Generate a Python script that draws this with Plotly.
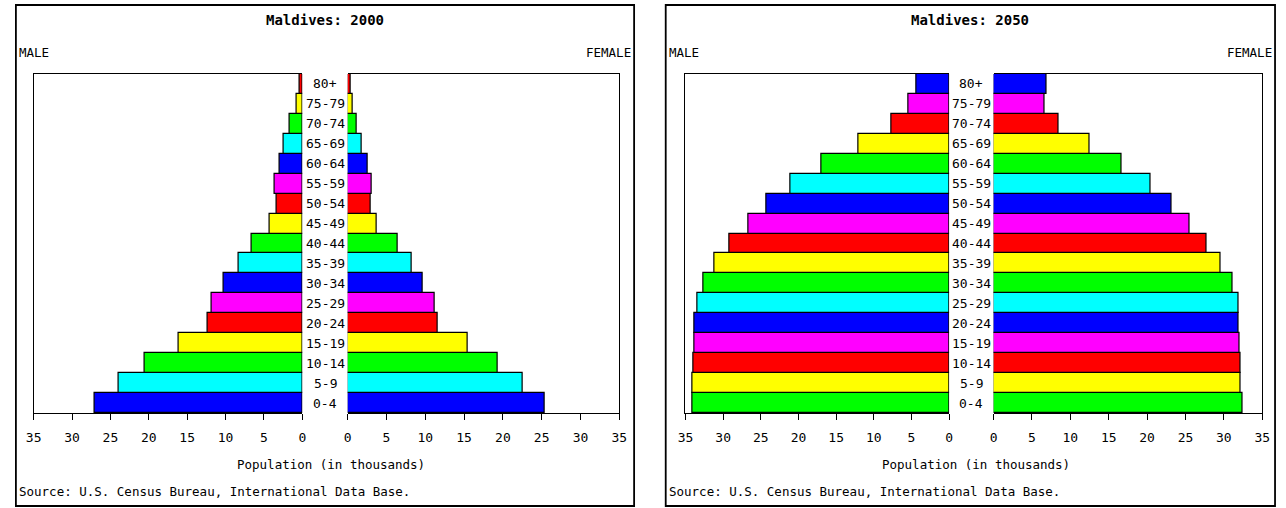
import plotly.graph_objects as go

# ---------------- data ----------------
ages = ["0-4", "5-9", "10-14", "15-19", "20-24", "25-29", "30-34", "35-39",
        "40-44", "45-49", "50-54", "55-59", "60-64", "65-69", "70-74", "75-79", "80+"]

male_2000 = [27.0, 23.9, 20.6, 16.1, 12.3, 11.8, 10.2, 8.3, 6.6, 4.2, 3.4, 3.6,
             3.0, 2.4, 1.6, 0.7, 0.4]
female_2000 = [25.4, 22.6, 19.3, 15.5, 11.6, 11.2, 9.7, 8.2, 6.4, 3.7, 2.9, 3.1,
               2.6, 1.8, 1.2, 0.7, 0.4]

male_2050 = [34.1, 34.1, 33.9, 33.8, 33.8, 33.4, 32.6, 31.2, 29.2, 26.7, 24.2, 21.1,
             16.9, 12.0, 7.7, 5.4, 4.3]
female_2050 = [32.4, 32.2, 32.2, 32.0, 31.9, 31.9, 31.1, 29.6, 27.7, 25.5, 23.2, 20.5,
               16.7, 12.5, 8.5, 6.7, 6.9]

palette = ["#0000FF", "#00FFFF", "#00FF00", "#FFFF00", "#FF0000", "#FF00FF"]
colors_2000 = [palette[i % 6] for i in range(len(ages))]
colors_2050 = [palette[(i + 2) % 6] for i in range(len(ages))]

tick_vals = [0, 5, 10, 15, 20, 25, 30, 35]
tick_text = ["0", "5", "10", "15", "20", "25", "30", "35"]

titles = ["Maldives: 2000", "Maldives: 2050"]
source = "Source: U.S. Census Bureau, International Data Base."
xtitle = "Population (in thousands)"

# ---------------- layout helpers ----------------
W, H = 1286, 508
FONT = "DejaVu Sans Mono"


def fx(p):
    return p / W


def fy(p):
    return 1 - p / H


ydom = [fy(413), fy(74)]

fig = go.Figure()

panels = [
    dict(male=male_2000, female=female_2000, colors=colors_2000,
         mdom=(26, 298), fdom=(344, 619), frame=(8, 634), title=titles[0]),
    dict(male=male_2050, female=female_2050, colors=colors_2050,
         mdom=(686, 953), fdom=(998, 1270), frame=(666, 1283), title=titles[1]),
]

layout = dict(
    width=W, height=H, margin=dict(l=0, r=0, t=0, b=0, pad=0),
    paper_bgcolor="white", plot_bgcolor="white",
    showlegend=False, bargap=0,
    font=dict(family=FONT, size=12, color="black"),
)

annotations = []
shapes = []

for k, p in enumerate(panels):
    im = 2 * k + 1
    ifm = 2 * k + 2
    xm = "x" if im == 1 else f"x{im}"
    ym = "y" if im == 1 else f"y{im}"
    xf = f"x{ifm}"
    yf = f"y{ifm}"

    fig.add_trace(go.Bar(
        y=ages, x=p["male"], orientation="h", xaxis=xm, yaxis=ym,
        marker=dict(color=p["colors"], line=dict(color="black", width=1.2)),
        hoverinfo="x+y"))
    fig.add_trace(go.Bar(
        y=ages, x=p["female"], orientation="h", xaxis=xf, yaxis=yf,
        marker=dict(color=p["colors"], line=dict(color="black", width=1.2)),
        hoverinfo="x+y"))

    common_x = dict(showline=True, linecolor="black", linewidth=1.2, mirror=True,
                    ticks="outside", ticklen=6, tickcolor="black", tickwidth=1.2,
                    tickvals=tick_vals, ticktext=tick_text, showgrid=False,
                    zeroline=False, ticklabelstandoff=6,
                    tickfont=dict(family=FONT, size=13))
    layout["xaxis" if im == 1 else f"xaxis{im}"] = dict(
        common_x, domain=[fx(p["mdom"][0]), fx(p["mdom"][1])], range=[35, 0],
        anchor=ym)
    layout[f"xaxis{ifm}"] = dict(
        common_x, domain=[fx(p["fdom"][0]), fx(p["fdom"][1])], range=[0, 35],
        anchor=yf)

    common_y = dict(domain=ydom, type="category", categoryorder="array",
                    categoryarray=ages, range=[-0.5, len(ages) - 0.5],
                    showticklabels=False, ticks="", showgrid=False,
                    zeroline=False, showline=True, linecolor="black",
                    linewidth=1.2)
    layout["yaxis" if im == 1 else f"yaxis{im}"] = dict(common_y, anchor=xm, side="left")
    layout[f"yaxis{ifm}"] = dict(common_y, anchor=xf, side="right")

    # age group labels between the halves
    cx = fx((p["mdom"][1] + p["fdom"][0]) / 2)
    for a in ages:
        annotations.append(dict(text=a, x=cx, xref="paper", y=a, yref=ym,
                                showarrow=False, xanchor="center", yanchor="middle",
                                font=dict(family=FONT, size=13)))

    fl, fr = p["frame"]
    mid = (fl + fr) / 2
    annotations += [
        dict(text="<b>" + p["title"] + "</b>", x=fx(mid), y=fy(20), xref="paper", yref="paper",
             showarrow=False, xanchor="center", yanchor="middle",
             font=dict(family=FONT, size=14)),
        dict(text="MALE", x=fx(fl + 1), y=fy(52), xref="paper", yref="paper",
             showarrow=False, xanchor="left", yanchor="middle",
             font=dict(family=FONT, size=12.5)),
        dict(text="FEMALE", x=fx(fr - 1), y=fy(52), xref="paper", yref="paper",
             showarrow=False, xanchor="right", yanchor="middle",
             font=dict(family=FONT, size=12.5)),
        dict(text=xtitle, x=fx(mid + 6), y=fy(464), xref="paper", yref="paper",
             showarrow=False, xanchor="center", yanchor="middle",
             font=dict(family=FONT, size=12.5)),
        dict(text=source, x=fx(fl + 1), y=fy(491), xref="paper", yref="paper",
             showarrow=False, xanchor="left", yanchor="middle",
             font=dict(family=FONT, size=12.5)),
    ]
    shapes.append(dict(type="rect", xref="paper", yref="paper",
                       x0=fx(fl), x1=fx(fr), y0=fy(506), y1=fy(5),
                       line=dict(color="black", width=1.8), fillcolor="rgba(0,0,0,0)"))

layout["annotations"] = annotations
layout["shapes"] = shapes
fig.update_layout(**layout)

fig.write_html(
    "out.html",
    config={"displayModeBar": False},
    post_script=(
        "document.documentElement.style.margin='0';"
        "document.documentElement.style.padding='0';"
        "document.documentElement.style.overflow='hidden';"
        "document.body.style.margin='0';"
        "document.body.style.padding='0';"
        "document.body.style.overflow='hidden';"
    ),
)
